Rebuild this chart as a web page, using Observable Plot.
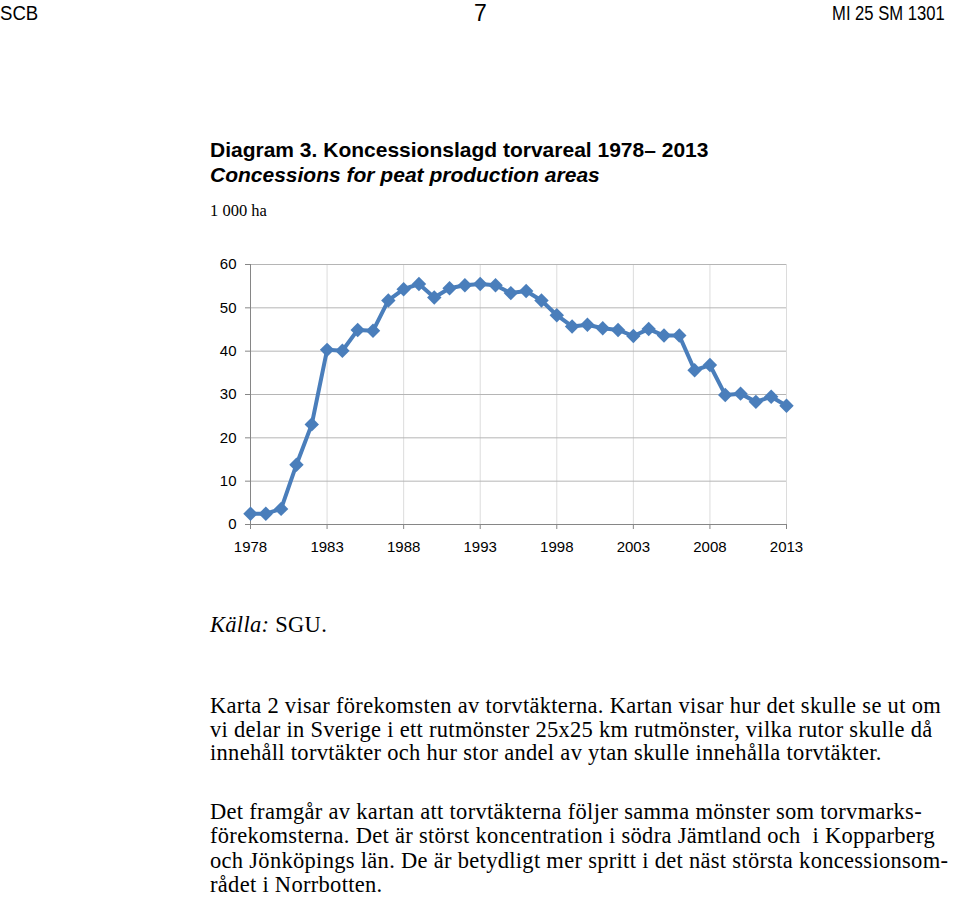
<!DOCTYPE html>
<html>
<head>
<meta charset="utf-8">
<script src="https://cdn.jsdelivr.net/npm/d3@7"></script>
<script src="https://cdn.jsdelivr.net/npm/@observablehq/plot@0.6"></script>
<style>
  html, body { margin: 0; padding: 0; background: #fff; }
  body { width: 960px; height: 899px; position: relative; overflow: hidden; color: #000; }
  .abs { position: absolute; white-space: pre; }
  .sans { font-family: "Liberation Sans", Arial, Helvetica, sans-serif; }
  .serif { font-family: "Liberation Serif", "Times New Roman", Times, serif; }
  .hdr { font-size: 20px; line-height: 24px; top: 1px; }
  .title { left: 210px; top: 137px; font-size: 21px; line-height: 25px; font-weight: bold; }
  .unit { left: 210px; top: 201px; font-size: 16.5px; line-height: 20px; }
  .para { left: 210px; font-size: 22.5px; line-height: 23.7px; letter-spacing: 0.3px; }
  #chart { position: absolute; left: 200px; top: 250px; }
</style>
</head>
<body>
<div class="abs sans hdr" style="left:0px; transform: scaleX(0.93); transform-origin: left center;">SCB</div>
<div class="abs sans hdr" style="left:474px; top:0px; font-size:23px; line-height:27px;">7</div>
<div class="abs sans hdr" style="right:15px; transform: scaleX(0.83); transform-origin: right center;">MI 25 SM 1301</div>

<div class="abs sans title">Diagram 3. Koncessionslagd torvareal 1978– 2013
<i>Concessions for peat production areas</i></div>
<div class="abs serif unit">1 000 ha</div>

<div id="chart"></div>

<div class="abs serif para" style="top:613px;"><i>Källa:</i> SGU.</div>

<div class="abs serif para" style="top:694px;">Karta 2 visar förekomsten av torvtäkterna. Kartan visar hur det skulle se ut om
vi delar in Sverige i ett rutmönster 25x25 km rutmönster, vilka rutor skulle då
innehåll torvtäkter och hur stor andel av ytan skulle innehålla torvtäkter.</div>

<div class="abs serif para" style="top:800px; line-height:24.4px;">Det framgår av kartan att torvtäkterna följer samma mönster som torvmarks-
förekomsterna. Det är störst koncentration i södra Jämtland och  i Kopparberg
och Jönköpings län. De är betydligt mer spritt i det näst största koncessionsom-
rådet i Norrbotten.</div>

<script>
const years = [1978, 1979, 1980, 1981, 1982, 1983, 1984, 1985, 1986, 1987, 1988, 1989,
  1990, 1991, 1992, 1993, 1994, 1995, 1996, 1997, 1998, 1999, 2000, 2001,
  2002, 2003, 2004, 2005, 2006, 2007, 2008, 2009, 2010, 2011, 2012, 2013];
const area = [2.5, 2.5, 3.6, 13.8, 23.1, 40.3, 40.1, 44.9, 44.7, 51.7, 54.3, 55.5,
  52.4, 54.5, 55.2, 55.5, 55.2, 53.4, 53.9, 51.7, 48.3, 45.7, 46.1, 45.3,
  44.9, 43.5, 45.1, 43.6, 43.6, 35.6, 36.8, 29.9, 30.2, 28.3, 29.5, 27.4];
const xTicks = [1978, 1983, 1988, 1993, 1998, 2003, 2008, 2013];
const yTicks = [0, 10, 20, 30, 40, 50, 60];

const data = years.map((year, i) => ({year, value: area[i]}));
const blue = "#4a7ebb";

const chart = Plot.plot({
  width: 620,
  height: 310,
  marginLeft: 50,
  marginRight: 34,
  marginTop: 14,
  marginBottom: 36,
  style: {fontFamily: "'Liberation Sans', Arial, Helvetica, sans-serif", fontSize: "15px", color: "#000", background: "transparent", overflow: "visible"},
  x: {domain: [1978, 2013]},
  y: {domain: [0, 60]},
  marks: [
    Plot.ruleX(xTicks, {stroke: "#dcdcdc", strokeWidth: 1}),
    Plot.ruleY(yTicks.filter(d => d > 0), {stroke: "#b5b5b5", strokeWidth: 1}),
    Plot.axisX({ticks: xTicks, tickFormat: d => String(d), tickSize: 5, tickPadding: 12, stroke: "#868686", fill: "#000", label: null}),
    Plot.axisY({ticks: yTicks, tickSize: 5, tickPadding: 9, stroke: "#868686", fill: "#000", label: null}),
    Plot.ruleX([1978], {stroke: "#868686"}),
    Plot.ruleY([0], {stroke: "#868686"}),
    Plot.line(data, {x: "year", y: "value", stroke: blue, strokeWidth: 4, strokeLinejoin: "round"}),
    Plot.dot(data, {x: "year", y: "value", symbol: "diamond2", r: 6.5, fill: blue, stroke: null})
  ]
});
document.getElementById("chart").appendChild(chart);
</script>
</body>
</html>
